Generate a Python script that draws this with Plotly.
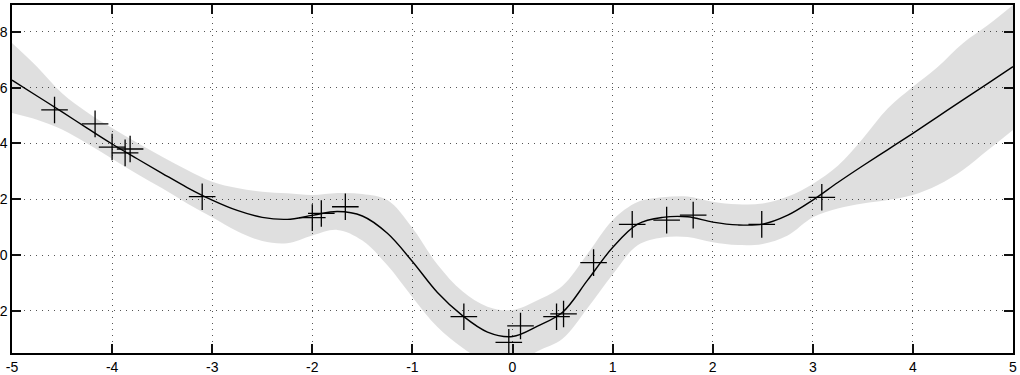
import plotly.graph_objects as go

# Observed training points
obs_x = [-4.575, -4.17, -4.00, -3.87, -3.82, -3.10, -2.00, -1.91, -1.67,
         -0.486, -0.037, 0.08, 0.44, 0.51, 0.81, 1.196, 1.54, 1.805, 2.49, 3.09]
obs_y = [5.20, 4.70, 3.87, 3.66, 3.80, 2.09, 1.34, 1.49, 1.73,
         -2.21, -3.13, -2.54, -2.21, -2.11, -0.27, 1.10, 1.25, 1.43, 1.10, 2.07]

# Predictive mean and band
grid_x = [-5.00, -4.75, -4.50, -4.25, -4.00, -3.75, -3.50, -3.25, -3.00, -2.75,
          -2.50, -2.25, -2.00, -1.75, -1.50, -1.25, -1.00, -0.75, -0.50, -0.25,
          0.00, 0.25, 0.50, 0.75, 1.00, 1.25, 1.50, 1.75, 2.00, 2.25,
          2.50, 2.75, 3.00, 3.25, 3.50, 3.75, 4.00, 4.25, 4.50, 4.75, 5.00]
mean_y = [6.27, 5.70, 5.13, 4.55, 3.98, 3.45, 2.93, 2.42, 1.97, 1.60,
          1.35, 1.28, 1.42, 1.56, 1.40, 0.78, -0.23, -1.34, -2.17, -2.76,
          -2.92, -2.55, -2.05, -0.90, 0.27, 1.11, 1.35, 1.37, 1.18, 1.08,
          1.11, 1.43, 1.97, 2.60, 3.20, 3.78, 4.36, 4.96, 5.56, 6.15, 6.75]
upper_y = [7.60, 6.75, 5.80, 5.12, 4.55, 4.02, 3.52, 3.05, 2.63, 2.40,
           2.27, 2.21, 2.15, 2.22, 2.19, 1.97, 0.97, -0.34, -1.30, -1.85,
           -1.97, -1.62, -1.10, 0.05, 1.25, 1.90, 2.07, 2.10, 1.91, 1.82,
           1.85, 2.10, 2.55, 3.20, 4.18, 5.26, 6.03, 6.75, 7.59, 8.24, 8.96]
lower_y = [5.09, 4.85, 4.50, 4.00, 3.45, 2.90, 2.39, 1.85, 1.35, 0.85,
           0.50, 0.42, 0.70, 0.90, 0.52, -0.37, -1.51, -2.58, -3.32, -3.85,
           -3.95, -3.45, -3.00, -1.90, -0.70, 0.35, 0.63, 0.65, 0.46, 0.36,
           0.40, 0.70, 1.35, 1.67, 1.85, 1.97, 2.15, 2.51, 3.05, 3.76, 4.48]

x_ticks = [-5, -4, -3, -2, -1, 0, 1, 2, 3, 4, 5]
x_tick_labels = ["-5", "-4", "-3", "-2", "-1", "0", "1", "2", "3", "4", "5"]
y_ticks = [-2, 0, 2, 4, 6, 8]
y_tick_labels = ["-2", "0", "2", "4", "6", "8"]

fig = go.Figure()
fig.add_trace(go.Scatter(x=grid_x, y=upper_y, mode="lines",
                         line=dict(width=0, shape="spline"), hoverinfo="skip",
                         showlegend=False))
fig.add_trace(go.Scatter(x=grid_x, y=lower_y, mode="lines",
                         line=dict(width=0, shape="spline"), fill="tonexty",
                         fillcolor="rgba(0,0,0,0.125)", hoverinfo="skip",
                         showlegend=False))
fig.add_trace(go.Scatter(x=grid_x, y=mean_y, mode="lines",
                         line=dict(color="black", width=1.4, shape="spline"),
                         showlegend=False))
fig.add_trace(go.Scatter(x=obs_x, y=obs_y, mode="markers",
                         marker=dict(symbol="cross-thin", size=19,
                                     line=dict(color="black", width=1.3)),
                         showlegend=False))

axis_common = dict(showline=True, linecolor="black", linewidth=1.5,
                   mirror="ticks", ticks="inside", ticklen=9, tickwidth=2,
                   tickcolor="#111111", showgrid=True, gridcolor="#555555",
                   gridwidth=1, griddash="1px,5px", zeroline=False,
                   automargin=False, layer="above traces",
                   tickfont=dict(family="Liberation Sans, Arial", size=14,
                                 color="black"))

fig.update_xaxes(range=[-5, 5], tickvals=x_ticks, ticktext=x_tick_labels,
                 **axis_common)
fig.update_yaxes(range=[-3.51, 8.96], tickvals=y_ticks, ticktext=y_tick_labels,
                 **axis_common)

fig.update_layout(width=1020, height=375,
                  margin=dict(l=12, r=7, t=5, b=22),
                  plot_bgcolor="white", paper_bgcolor="white")

fig.write_html("out.html")
